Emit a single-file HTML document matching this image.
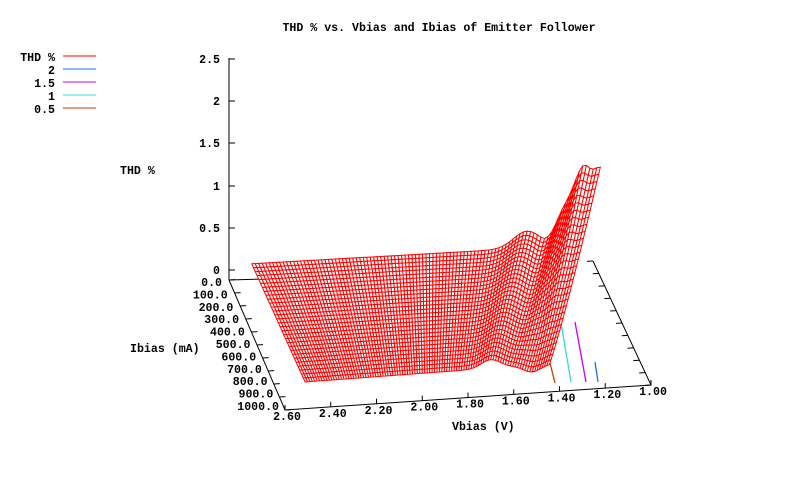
<!DOCTYPE html>
<html><head><meta charset="utf-8"><style>
html,body{margin:0;padding:0;background:#fff;}
svg{display:block;}
text{font-family:"Liberation Mono","DejaVu Sans Mono",monospace;font-weight:bold;font-size:11.6px;fill:#000;}
</style></head><body>
<svg id="s" width="800" height="480" viewBox="0 0 800 480" xmlns="http://www.w3.org/2000/svg">
<text x="439" y="31" text-anchor="middle">THD % vs. Vbias and Ibias of Emitter Follower</text>
<g text-anchor="end">
<text x="55" y="61">THD %</text><text x="55" y="74">2</text><text x="55" y="87">1.5</text><text x="55" y="100">1</text><text x="55" y="113">0.5</text>
<text x="220" y="63">2.5</text><text x="220" y="105">2</text><text x="220" y="147">1.5</text><text x="220" y="190">1</text><text x="220" y="232">0.5</text><text x="220" y="274">0</text>
</g>
<line x1="63" y1="56" x2="96" y2="56" stroke="#ff0000"/>
<line x1="63" y1="69" x2="96" y2="69" stroke="#1e6fe0"/>
<line x1="63" y1="82" x2="96" y2="82" stroke="#c000ff"/>
<line x1="63" y1="95" x2="96" y2="95" stroke="#30e0d0"/>
<line x1="63" y1="108" x2="96" y2="108" stroke="#c04000"/>
<text x="120" y="174">THD %</text>
<text x="130" y="352">Ibias (mA)</text>
<text x="452" y="430">Vbias (V)</text>
<g id="ax" stroke="#000" fill="none"></g>
<g id="ct" fill="none" stroke-width="1.3"></g>
<g id="surf" fill="#fff" stroke="#ff0000" stroke-width="1"></g>
<g id="lab"></g>
</svg>
<script>
var NS="http://www.w3.org/2000/svg";
function el(p,t,a,txt){var e=document.createElementNS(NS,t);for(var k in a)e.setAttribute(k,a[k]);if(txt)e.textContent=txt;p.appendChild(e);return e;}
var ax=document.getElementById('ax'),lab=document.getElementById('lab'),surf=document.getElementById('surf'),ct=document.getElementById('ct');
var BL=[229,280],BR=[593,261],FL=[285,410],FR=[651,385];
function base(u,v){var bx=BL[0]+u*(BR[0]-BL[0]),by=BL[1]+u*(BR[1]-BL[1]);var fx=FL[0]+u*(FR[0]-FL[0]),fy=FL[1]+u*(FR[1]-FL[1]);return [bx+(fx-bx)*v,by+(fy-by)*v];}
el(ax,'polyline',{points:BL+' '+FL+' '+FR+' '+BR});
el(ax,'line',{x1:BL[0],y1:BL[1],x2:263,y2:279});
el(ax,'line',{x1:229,y1:58,x2:229,y2:280});
[59,101,143,186,228,270].forEach(function(y){el(ax,'line',{x1:229,y1:y,x2:235,y2:y});});
for(var k=0;k<=10;k++){var p=base(0,k/10);el(ax,'line',{x1:p[0],y1:p[1],x2:p[0]+6,y2:p[1]-0.4});
 el(lab,'text',{x:222+5.7*k,y:286+12.4*k,'text-anchor':'end'},(k*100)+'.0');
 var q=base(1,k/10);el(ax,'line',{x1:q[0],y1:q[1],x2:q[0]-6,y2:q[1]+0.4});}
var vl=['2.60','2.40','2.20','2.00','1.80','1.60','1.40','1.20','1.00'];
for(var i=0;i<9;i++){var p=base(i/8,1);el(ax,'line',{x1:p[0],y1:p[1],x2:p[0],y2:p[1]-5});
 el(lab,'text',{x:p[0]+2,y:p[1]+10,'text-anchor':'middle'},vl[i]);}
[["#c04000",548,355,555,383],["#30e0d0",560,317,571,382],["#c000ff",575,322,586,382],["#1e6fe0",595,362,598,382]].forEach(function(c){el(ct,'line',{x1:c[1],y1:c[2],x2:c[3],y2:c[4],stroke:c[0]});});
function ss(a,b,x){var t=Math.min(1,Math.max(0,(x-a)/(b-a)));return t*t*(3-2*t);}
var NR=30,NC=100,pts=[];
for(var j=0;j<=NR;j++){var v=0.95*j/NR,w=j/NR;var ur=1.02-0.29*w;pts.push([]);
 for(var i=0;i<=NC;i++){var s=i/NC;var u=0.0625+(ur-0.0625)*s;
  var z=0.02*s;
  z+=(0.2-0.1*w)*Math.exp(-Math.pow((s-0.79+0.03*w)/0.055,2));
  z-=0.08*w*Math.exp(-Math.pow((s-0.93)/0.05,2));
  var pk=Math.pow(1-w,1.3)*0.95; z+=pk*ss(0.83,0.96,s)*(1-0.12*Math.exp(-Math.pow((s-0.975)/0.02,2)));
  z+=0.06*Math.pow(1-w,1.5)*ss(0.85,0.92,s)*Math.sin(s*60);
  var b=base(u,v);pts[j].push([b[0],b[1]-15-5*w-z*84.6]);}}
for(var j=0;j<NR;j++){for(var i=0;i<NC;i++){var a=pts[j][i],b=pts[j][i+1],c=pts[j+1][i+1],d=pts[j+1][i];
 el(surf,'polygon',{points:a[0].toFixed(1)+','+a[1].toFixed(1)+' '+b[0].toFixed(1)+','+b[1].toFixed(1)+' '+c[0].toFixed(1)+','+c[1].toFixed(1)+' '+d[0].toFixed(1)+','+d[1].toFixed(1)});}}
</script>
</body></html>
